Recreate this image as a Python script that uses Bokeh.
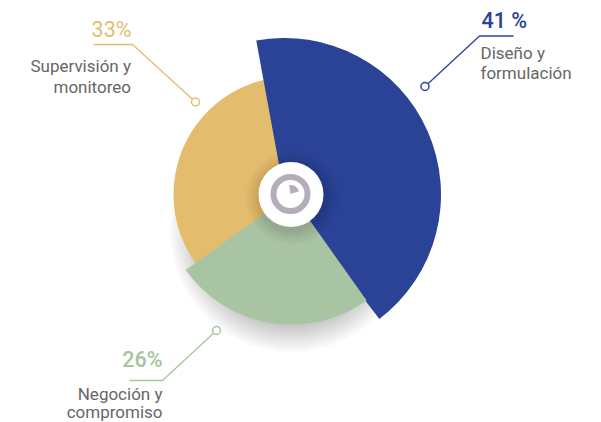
from bokeh.plotting import figure
from bokeh.models import Range1d
from bokeh.core.properties import value
from bokeh.embed import file_html
from bokeh.resources import INLINE
import math

# data
names = ["Diseño y\nformulación", "Supervisión y\nmonitoreo", "Negoción y\ncompromiso"]
shares = ["41 %", "33%", "26%"]
colors = ["#2b4396", "#e3bd6d", "#a8c4a2"]
# slice edges (deg, counter-clockwise from east) and radii (px)
blue_edges = [-52.7, 100.4]
gold_edges = [95.0, 215.5]
green_edges = [-54.7, 215.5]
radii = [156.5, 118, 130]

W, H = 601, 422
PH = 422
def Y(py):
    return PH - py

p = figure(width=W, height=H, output_backend="svg", toolbar_location=None,
           x_range=Range1d(0, W), y_range=Range1d(0, H),
           min_border=0, margin=0)
p.axis.visible = False
p.grid.visible = False
p.outline_line_color = None
p.background_fill_color = "white"
p.border_fill_color = "white"

CX, CY = 291, 194

# soft shadow beneath the pie
for i in range(16):
    p.circle(x=[CX], y=[Y(CY + 36)], radius=[122 - i * 2.0], fill_color="black",
             fill_alpha=0.017, line_color=None)

p.wedge(x=[CX], y=[Y(CY)], radius=[radii[1]], start_angle=[math.radians(gold_edges[0])],
        end_angle=[math.radians(gold_edges[1])], fill_color=colors[1], line_color=None)
p.wedge(x=[284], y=[Y(CY)], radius=[radii[0]], start_angle=[math.radians(blue_edges[0])],
        end_angle=[math.radians(blue_edges[1])], fill_color=colors[0], line_color=None)
p.wedge(x=[CX], y=[Y(CY)], radius=[radii[2]], start_angle=[math.radians(green_edges[1])],
        end_angle=[math.radians(green_edges[0])], fill_color=colors[2], line_color=None)

# shadow round the hub, white hub and clock icon
for i in range(10):
    p.circle(x=[CX + 1], y=[Y(CY + 3)], radius=[47 - i * 1.5], fill_color="black",
             fill_alpha=0.012, line_color=None)
p.circle(x=[290.5], y=[Y(CY)], radius=[32.5], fill_color="white", line_color=None)
p.circle(x=[290], y=[Y(193.5)], radius=[17], fill_color="white", line_color="#b5adb8", line_width=6)
p.wedge(x=[290], y=[Y(193.5)], radius=[9], start_angle=[math.radians(18)], end_angle=[math.radians(98)],
        fill_color="#b5adb8", line_color=None)

def leader(xs, ys, color):
    p.line(xs, [Y(v) for v in ys], line_color=color, line_width=1.3)
    p.circle(x=[xs[0]], y=[Y(ys[0])], radius=[4], fill_color="white", line_color=color, line_width=1.5)

leader([424.5, 479, 513], [86, 35.5, 35.5], colors[0])
leader([195, 132, 93], [101.5, 44, 44], colors[1])
leader([216, 162, 129], [330, 380, 380], colors[2])

def txt(x, py, s, color, size, align, font="Roboto"):
    p.text(x=[x], y=[Y(py - 0.36 * size)], text=[s], text_color=color, text_font=value(font),
           text_font_size=f"{size}px", text_align=align, text_baseline="alphabetic")

txt(481, 28, shares[0], colors[0], 21.5, "left", "Roboto Medium")
txt(131, 37, shares[1], colors[1], 21.5, "right")
txt(162, 367, shares[2], colors[2], 21.5, "right", "Roboto Medium")

l0 = names[0].split("\n"); l1 = names[1].split("\n"); l2 = names[2].split("\n")
grey = "#666666"
txt(480, 59, l0[0], grey, 17, "left")
txt(480, 79, l0[1], grey, 17, "left")
txt(130.5, 72, l1[0], grey, 17, "right")
txt(130.5, 92.5, l1[1], grey, 17, "right")
txt(162, 400, l2[0], grey, 17, "right")
txt(162, 418, l2[1], grey, 17, "right")

open("out.html", "w").write(file_html(p, INLINE))
